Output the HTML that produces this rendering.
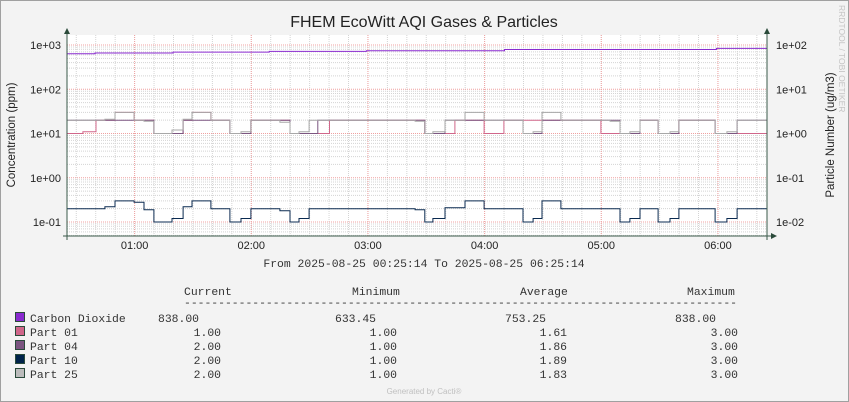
<!DOCTYPE html>
<html><head><meta charset="utf-8"><style>
html,body{margin:0;padding:0;background:#f3f3f3}
svg{display:block}
.sans{font-family:"Liberation Sans",sans-serif}
.mono{font-family:"Liberation Mono",monospace;font-size:11.4px;fill:#333}
</style></head><body>
<svg id="chart" width="849" height="402" xmlns="http://www.w3.org/2000/svg">
<rect x="0.5" y="0.5" width="848" height="401" fill="#f3f3f3" stroke="#a0a0a0"/>
<rect x="67" y="35" width="700" height="201" fill="#ffffff"/>
<g id="grid"></g>
<g id="series"></g>
<g id="axes"></g>
<text x="424" y="27" text-anchor="middle" class="sans" font-size="16" fill="#222">FHEM EcoWitt AQI Gases &amp; Particles</text>
<text transform="translate(15,135) rotate(-90)" text-anchor="middle" class="sans" font-size="11.5" fill="#222">Concentration (ppm)</text>
<text transform="translate(834,135) rotate(-90)" text-anchor="middle" class="sans" font-size="11.5" fill="#222">Particle Number (ug/m3)</text>
<text transform="translate(839,5) rotate(90)" class="sans" font-size="8.5" fill="#c4c4c4">RRDTOOL / TOBI OETIKER</text>
<text x="424" y="267" text-anchor="middle" class="mono">From 2025-08-25 00:25:14 To 2025-08-25 06:25:14</text>
<g id="legend"></g>
<text x="424" y="394" text-anchor="middle" class="sans" font-size="8" fill="#c0c0c0">Generated by Cacti®</text>
</svg>
<script>
// Data (minutes from 00:25:14, step values)
const co2Times = [0, 14.4, 54.5, 104, 154, 225, 334];
const co2Values = [633.45, 660, 690, 715, 745, 790, 838];
const p25Times = [0,19.5,24.7,34.5,39.6,44.7,54,59.7,64.3,74,83.8,89.5,94.6,109.5,114.7,119.3,124.5,179,184,188.2,194.4,204.7,214.5,234.5,239.7,244.3,254,279.3,284.4,289.5,294.7,304,310.1,314.7,333.3,339.4,344.6];
const p25Values = [2,2.1,3,2,1.9,1,1.2,2.1,3,2,1,1.1,2,1.8,1,1.1,2,1.9,1,1.1,2,3,2,1,1.1,3,2,1.9,1,1.1,2,1,1.1,2,1,1.1,2];
const p10Times = p25Times.slice();
const p10Values = [2,2.2,3,2.8,1.9,1,1.2,2.2,3,2,1,1.2,2,1.8,1,1.2,2,1.9,1,1.2,2.1,3,2,1,1.2,3,2,2,1,1.2,2,1,1.2,2,1,1.2,2];
const p01Times = [0,8.2,14.9,24.7,34.5,44.7,59.7,64.3,74,83.8,94.6,114.7,135,184,199.5,214.5,224.7,244.3,254,274.6,294.7,304,314.7,333.3];
const p01Values = [1,1.1,2,3,2,1,2,3,2,1,2,1,2,1,2,1,2,2,2,1,2,1,2,1];
const p04Times = [0,44.7,59.7,83.8,94.6,114.7,129,184,194.4,234.5,244.3,284.4,294.7,304,314.7,333.3,344.6];
const p04Values = [2,1,2,1,2,1,2,1,2,1,2,1,2,1,2,1,2];
const hourLabels = ["01:00","02:00","03:00","04:00","05:00","06:00"];
const hourOffsets = [34.77,94.77,154.77,214.77,274.77,334.77];
const leftTicks = ["1e+03","1e+02","1e+01","1e+00","1e-01"];
const leftTickVals = [1000,100,10,1,0.1];
const rightTicks = ["1e+02","1e+01","1e+00","1e-01","1e-02"];

const NS="http://www.w3.org/2000/svg";
const X0=67,X1=767,TOTAL=360;
function xs(m){return X0+m*(X1-X0)/TOTAL;}
function ys(v){return 45+(3-Math.log10(v))*44.25;}
function mk(tag,attrs,parent){const e=document.createElementNS(NS,tag);for(const k in attrs)e.setAttribute(k,attrs[k]);parent.appendChild(e);return e;}

const grid=document.getElementById('grid');
for(let m=-25.23;m<=TOTAL;m+=10){ if(m<0)continue;
  const l=mk('line',{x1:xs(m),x2:xs(m),y1:35,y2:236,stroke:'#d4d4d4','stroke-dasharray':'1,1'},grid);
  
  
}
for(let d=-2;d<=3;d++){for(let k=2;k<=9;k++){const v=k*Math.pow(10,d);const y=ys(v);if(y<35||y>236)continue;
  const l=mk('line',{x1:X0,x2:X1,y1:y,y2:y,stroke:'#d4d4d4','stroke-dasharray':'1,1'},grid);
  
  
}}
hourOffsets.forEach(m=>{
  const l=mk('line',{x1:xs(m),x2:xs(m),y1:35,y2:236,stroke:'#f0a0a0','stroke-dasharray':'1,1'},grid);
  
  
});
leftTickVals.forEach(v=>{
  const l=mk('line',{x1:X0,x2:X1,y1:ys(v),y2:ys(v),stroke:'#f0a0a0','stroke-dasharray':'1,1'},grid);
  
  
});

const ser=document.getElementById('series');
function stepPath(times,vals,scale){let d='';for(let i=0;i<times.length;i++){const x=xs(times[i]),y=ys(vals[i]*scale);
  d+=(i===0?'M':'L')+x.toFixed(1)+','+y.toFixed(1)+' ';const xn=xs(i+1<times.length?times[i+1]:TOTAL);d+='L'+xn.toFixed(1)+','+y.toFixed(1)+' ';}return d;}
const seriesDefs=[
 ['co2-line',co2Times,co2Values,1,'#8a2bd0'],
 ['part01-line',p01Times,p01Values,10,'#d0668a'],
 ['part04-line',p04Times,p04Values,10,'#7b5580'],
 ['part10-line',p10Times,p10Values,0.1,'#0a2a50'],
 ['part25-line',p25Times,p25Values,10,'#a8a8a8']];
seriesDefs.forEach(s=>{
  const p=mk('path',{d:stepPath(s[1],s[2],s[3]),fill:'none',stroke:s[4],'stroke-width':1},ser);
  
  
});

const ax=document.getElementById('axes');
const axDefs=[['left-axis-line',X0,30,X0,240],['right-axis-line',X1,30,X1,240],['x-axis-line',63,236,772,236]];
axDefs.forEach(a=>{const l=mk('line',{x1:a[1],y1:a[2],x2:a[3],y2:a[4],stroke:'#3a5a4a','stroke-width':1},ax);
  
  });
[['M64,34 L67,28 L70,34 Z','left-axis-arrow'],['M764,34 L767,28 L770,34 Z','right-axis-arrow'],['M771,233 L777,236 L771,239 Z','x-axis-arrow']].forEach(a=>{
  const p=mk('path',{d:a[0],fill:'#2a4a3a'},ax);
  
  });
leftTicks.forEach((t,i)=>{
  const tx=mk('text',{x:61,y:ys(leftTickVals[i])+4,'text-anchor':'end','font-size':'11',fill:'#222',class:'sans'},ax);tx.textContent=t;
  
  
  const tr=mk('text',{x:776,y:ys(leftTickVals[i])+4,'font-size':'11',fill:'#222',class:'sans'},ax);tr.textContent=rightTicks[i];
  
  
});
hourLabels.forEach((t,i)=>{
  const tx=mk('text',{x:xs(hourOffsets[i]),y:249,'text-anchor':'middle','font-size':'11',fill:'#222',class:'sans'},ax);tx.textContent=t;
  
  
});

const lg=document.getElementById('legend');
const legNames=["Carbon Dioxide","Part 01","Part 04","Part 10","Part 25"];
const legColors=["#8a2bd0","#d0668a","#7b5580","#00234a","#bcbcbc"];
const legCur=["838.00","1.00","2.00","2.00","2.00"];
const legMin=["633.45","1.00","1.00","1.00","1.00"];
const legAvg=["753.25","1.61","1.86","1.89","1.83"];
const legMax=["838.00","3.00","3.00","3.00","3.00"];
[['Current',184],['Minimum',352],['Average',520],['Maximum',687]].forEach(h=>{
  const t=mk('text',{x:h[1],y:295,class:'mono'},lg);t.textContent=h[0];
  
  });
const dl=mk('text',{x:184,y:306,class:'mono',textLength:553,lengthAdjust:'spacing'},lg);dl.textContent='-'.repeat(81);


legNames.forEach((n,i)=>{
  const y=322+i*14;
  const r=mk('rect',{x:15.5,y:y-9.5,width:9,height:9,fill:legColors[i],stroke:'#2a4a3a'},lg);
  
  
  const t=mk('text',{x:30,y:y,class:'mono'},lg);t.textContent=n;
  
  
  const cols=i===0?[[158,legCur],[335,legMin],[505,legAvg],[675,legMax]]:[[221,legCur],[397,legMin],[567,legAvg],[738,legMax]];
  cols.forEach(c=>{const v=mk('text',{x:c[0],y:y,class:'mono','text-anchor':i===0?'start':'end'},lg);v.textContent=c[1][i];
    
    });
});
</script>
</body></html>
